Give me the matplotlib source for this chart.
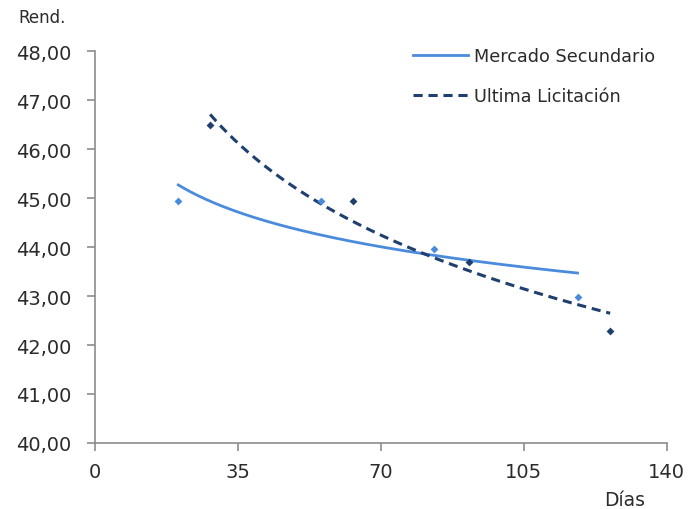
import numpy as np
import matplotlib
matplotlib.use("Agg")
import matplotlib.pyplot as plt
from matplotlib.ticker import FuncFormatter

# Data
sec_days = [20.4, 55.3, 83.1, 118.2]
sec_rend = [44.94, 44.94, 43.96, 42.97]
lic_days = [28.2, 63.3, 91.5, 126.2]
lic_rend = [46.48, 44.93, 43.69, 42.29]

series_names = ["Mercado Secundario", "Ultima Licitación"]
x_ticks = [0, 35, 70, 105, 140]
y_ticks = [40, 41, 42, 43, 44, 45, 46, 47, 48]

light = "#4A8BDC"
dark = "#1F3F6E"

fig = plt.figure(figsize=(6.88, 5.10), dpi=100)
ax = fig.add_axes([95/688, 1-444/510, (666.5-95)/688, (444-52)/510])


def log_trend(x, y):
    x = np.asarray(x, float)
    y = np.asarray(y, float)
    b, a = np.polyfit(np.log(x), y, 1)
    xs = np.linspace(x.min(), x.max(), 200)
    return xs, a + b*np.log(xs)


xs, ys = log_trend(sec_days, sec_rend)
ax.plot(xs, ys, color=light, lw=2.0, label=series_names[0], zorder=3)
xs, ys = log_trend(lic_days, lic_rend)
ax.plot(xs, ys, color=dark, lw=2.2, ls=(0, (3.0, 1.9)), label=series_names[1], zorder=3)

ax.scatter(sec_days, sec_rend, marker="D", s=16, color=light, zorder=4, linewidths=0)
ax.scatter(lic_days, lic_rend, marker="D", s=16, color=dark, zorder=4, linewidths=0)

ax.set_xlim(0, 140)
ax.set_ylim(40, 48)
ax.set_xticks(x_ticks)
ax.set_yticks(y_ticks)
ax.yaxis.set_major_formatter(FuncFormatter(lambda v, p: f"{v:.2f}".replace(".", ",")))

for s in ["top", "right"]:
    ax.spines[s].set_visible(False)
for s in ["left", "bottom"]:
    ax.spines[s].set_color("#8C8C8C")
    ax.spines[s].set_linewidth(1.2)

ax.tick_params(axis="both", direction="out", color="#8C8C8C", width=1.2, length=6,
               labelsize=14, labelcolor="#2B2B2B")
ax.tick_params(axis="y", pad=11)
ax.tick_params(axis="x", pad=8)

fig.text(18/688, 1-18/510, "Rend.", fontsize=12, color="#2B2B2B", ha="left", va="center")
fig.text(625/688, 1-501/510, "Días", fontsize=13.5, color="#2B2B2B", ha="center", va="center")

leg = ax.legend(loc="upper left", bbox_to_anchor=(413/688, 1-48/510), bbox_transform=fig.transFigure,
                frameon=False, fontsize=12.7, handlelength=3.1, handletextpad=0.35,
                labelspacing=1.26, borderaxespad=0, borderpad=0)
for t in leg.get_texts():
    t.set_color("#2B2B2B")

fig.savefig("out.png", dpi=100)
